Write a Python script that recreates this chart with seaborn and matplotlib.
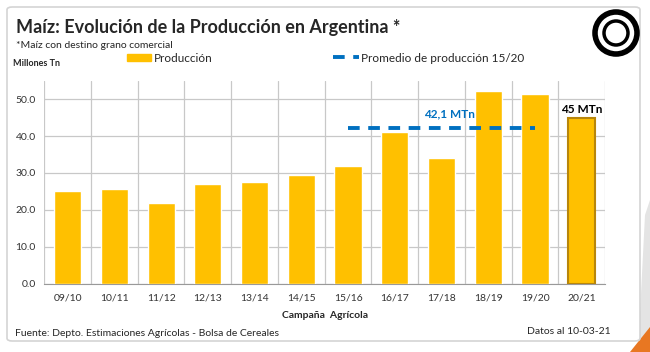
import seaborn as sns
import matplotlib.pyplot as plt
from matplotlib.patches import FancyBboxPatch, Circle, Rectangle, Polygon
from matplotlib.lines import Line2D
from matplotlib.ticker import FormatStrFormatter, FixedLocator

# campañas y producción (millones de toneladas)
campanias = ["09/10", "10/11", "11/12", "12/13", "13/14", "14/15",
             "15/16", "16/17", "17/18", "18/19", "19/20", "20/21"]
produccion = [25.2, 25.6, 21.9, 26.9, 27.5, 29.4, 31.9, 41.0, 34.0, 52.1, 51.5, 45.0]
promedio = 42.1
promedio_desde = "15/16"
promedio_hasta = "19/20"

sns.set_style("white")
plt.rcParams["font.family"] = ["Lato", "DejaVu Sans"]

amarillo = "#FFC000"
azul = "#0070C0"
W, H = 650, 352

fig = plt.figure(figsize=(6.5, 3.52), dpi=100)
ax = fig.add_axes([0.068, 0.194, 0.863, 0.577])
ax.set_zorder(2)

sns.barplot(x=campanias, y=produccion, color=amarillo, width=0.58,
            saturation=1, ax=ax, zorder=3)
# borde oscuro en la estimación actual
ax.patches[-1].set_edgecolor("#B8860B")
ax.patches[-1].set_linewidth(1.5)

i0 = campanias.index(promedio_desde)
i1 = campanias.index(promedio_hasta)
ax.hlines(promedio, i0, i1, colors=azul, linestyles=(0, (3, 2.2)), linewidth=2.8, zorder=4)
ax.text((i0 + i1) / 2 + 0.17, promedio + 2.5, "42,1 MTn", color=azul,
        fontsize=8.5, fontweight="bold", ha="center", va="bottom")
ax.text(len(campanias) - 1, produccion[-1] + 0.8, "45 MTn", color="black",
        fontsize=8.5, fontweight="bold", ha="center", va="bottom")

ax.set_ylim(0, 55)
ax.set_xlim(-0.5, len(campanias) - 0.5)
ax.set_yticks([0, 10, 20, 30, 40, 50])
ax.yaxis.set_major_formatter(FormatStrFormatter("%.1f"))
ax.xaxis.set_minor_locator(FixedLocator([k - 0.5 for k in range(len(campanias) + 1)]))
ax.grid(axis="y", which="major", color="#c8c8c8", linewidth=0.9, zorder=0)
ax.grid(axis="x", which="minor", color="#c8c8c8", linewidth=0.9, zorder=0)
ax.tick_params(axis="both", which="both", length=0, labelsize=7.5, colors="#333333")
ax.tick_params(axis="x", pad=7)
ax.tick_params(axis="y", pad=6)
for s in ["top", "right", "left"]:
    ax.spines[s].set_visible(False)
ax.spines["bottom"].set_color("#999999")
ax.set_xlabel("Campaña  Agrícola", fontsize=7.5, fontweight="bold", labelpad=6)
ax.set_ylabel("")

# marco de la diapositiva y adornos
fig.patches.append(Polygon([(638 / W, 0), (1, 0), (1, 1 - 200 / H), (645 / W, 1 - 215 / H)],
                           closed=True, transform=fig.transFigure,
                           facecolor="#e4e4e4", edgecolor="none", zorder=-3))
fig.patches.append(Polygon([(630 / W, 0), (1, 0), (1, 25 / H)], closed=True,
                           transform=fig.transFigure, facecolor="#E87722",
                           edgecolor="none", zorder=-3))
fig.patches.append(FancyBboxPatch((7 / W, 11 / H), 633 / W, 334 / H,
                                  boxstyle="round,pad=0,rounding_size=0.008",
                                  transform=fig.transFigure, facecolor="white",
                                  edgecolor="#d4d4d4", linewidth=1.2, zorder=-2))
# logo
fig.patches.append(Circle((6.16, 3.19), 0.21, transform=fig.dpi_scale_trans,
                          facecolor="white", edgecolor="black", linewidth=4, zorder=1))
fig.patches.append(Circle((6.16, 3.19), 0.12, transform=fig.dpi_scale_trans,
                          facecolor="none", edgecolor="black", linewidth=2.5, zorder=1))

fig.text(16 / W, 1 - 28 / H, "Maíz: Evolución de la Producción en Argentina *",
         fontsize=13, fontweight="bold", va="center", ha="left")
fig.text(16 / W, 1 - 45 / H, "*Maíz con destino grano comercial",
         fontsize=7.5, va="center", ha="left")
fig.text(13 / W, 1 - 63 / H, "Millones Tn", fontsize=6.5, fontweight="bold",
         va="center", ha="left")

# leyenda
fig.legend([Rectangle((0, 0), 1, 1, color=amarillo)], ["Producción"],
           loc="center left", bbox_to_anchor=(127 / W, 1 - 58 / H),
           frameon=False, fontsize=8.5, handlelength=2.0, handletextpad=0.3,
           handleheight=0.5, borderpad=0, borderaxespad=0)
fig.legend([Line2D([0], [0], color=azul, linestyle=(0, (3, 2.2)), linewidth=2.8)],
           ["Promedio de producción 15/20"],
           loc="center left", bbox_to_anchor=(333 / W, 1 - 58 / H),
           frameon=False, fontsize=8.5, handlelength=2.2, handletextpad=0.2,
           borderpad=0, borderaxespad=0)

fig.text(15 / W, 1 - 333 / H, "Fuente: Depto. Estimaciones Agrícolas - Bolsa de Cereales",
         fontsize=7.5, va="center", ha="left")
fig.text(611 / W, 1 - 331 / H, "Datos al 10-03-21", fontsize=7.5,
         va="center", ha="right")

fig.savefig("out.png", dpi=100)
